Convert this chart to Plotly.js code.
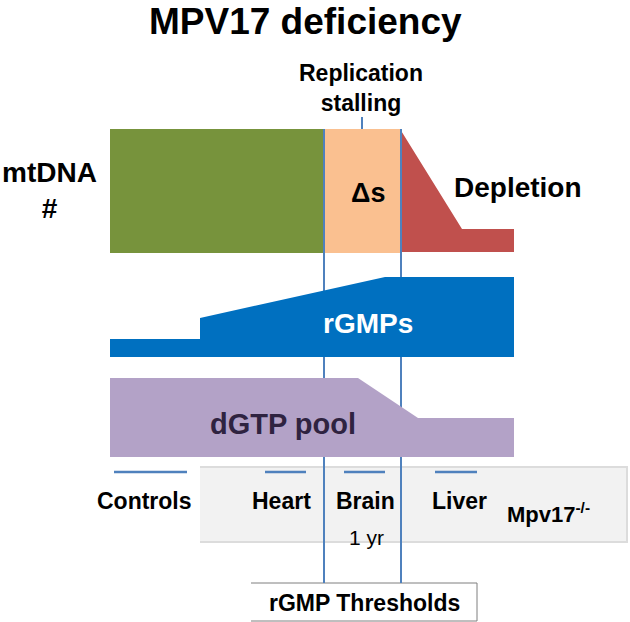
<!DOCTYPE html>
<html>
<head>
<meta charset="utf-8">
<script src="https://cdn.plot.ly/plotly-3.0.1.min.js"></script>
<style>html,body{margin:0;padding:0;background:#fff;}#chart{width:630px;height:622px;}</style>
</head>
<body>
<div id="chart"></div>
<script>
// Schematic outlines (pixel-like diagram units, y grows downward)
const greenX = [110, 324, 324, 110];
const greenY = [129, 129, 253, 253];
const orangeX = [324, 400, 400, 324];
const orangeY = [129, 129, 253, 253];
const redX = [400, 462, 514, 514, 400];
const redY = [129, 229, 229, 252, 252];
const rgmpX = [110, 200, 200, 385, 514, 514, 110];
const rgmpY = [339, 339, 318, 277, 277, 357, 357];
const dgtpX = [110, 358, 418, 514, 514, 110];
const dgtpY = [378, 378, 418, 418, 457, 457];
const thresholdX = [324, 401];
const thresholdY = [129, 583];
const stallX = [362, 362];
const stallY = [117, 129];
const tissueNames = ["Controls", "Heart", "Brain", "Liver"];
const tissueStart = [114, 265, 344, 435];
const tissueEnd = [187, 306, 385, 477];
const tissueLineY = 472;
const tissueLabelX = [144, 281, 365, 459];
const greyBoxX = [200, 627, 627, 200];
const greyBoxY = [467, 467, 542, 542];
const threshBoxX = [251, 477, 477, 251];
const threshBoxY = [583, 583, 621, 621];

const FONT = "Liberation Sans, Arial, Helvetica, sans-serif";
const traces = [];
function poly(x, y, fill, line, lw) {
  traces.push({x: x, y: y, type: "scatter", mode: "lines", fill: "toself",
    fillcolor: fill, line: {color: line || fill, width: lw || 0}, hoverinfo: "skip", showlegend: false});
}
function seg(x, y, color, w) {
  traces.push({x: x, y: y, type: "scatter", mode: "lines",
    line: {color: color, width: w}, hoverinfo: "skip", showlegend: false});
}
poly(greyBoxX, greyBoxY, "#f2f2f2", "#dcdcdc", 2);
poly(threshBoxX, threshBoxY, "#ffffff", "#7f7f7f", 1);
poly(greenX, greenY, "#77933c");
poly(orangeX, orangeY, "#fac090");
poly(redX, redY, "#c0504d");
thresholdX.forEach(function (x) { seg([x, x], thresholdY, "#4f81bd", 2); });
seg(stallX, stallY, "#4f81bd", 2);
tissueNames.forEach(function (n, i) {
  seg([tissueStart[i], tissueEnd[i]], [tissueLineY, tissueLineY], "#4f81bd", 2.5);
});
poly(rgmpX, rgmpY, "#0070c0");
poly(dgtpX, dgtpY, "#b3a2c7");

function ann(text, x, y, size, opts) {
  return Object.assign({text: text, x: x, y: y, xref: "x", yref: "y", showarrow: false,
    xanchor: "center", yanchor: "middle",
    font: {family: FONT, size: size, color: "#000000", weight: "bold"}}, opts || {});
}
const annotations = [
  ann("MPV17 deficiency", 305, 0, 37, {yanchor: "top", borderpad: 0}),
  ann("Replication<br>stalling", 361, 88, 23),
  ann("mtDNA<br>#", 49, 190, 28),
  ann("Δs", 368, 193, 27),
  ann("Depletion", 452, 187, 28, {xanchor: "left"}),
  ann("rGMPs", 368, 323, 28, {font: {family: FONT, size: 28, color: "#ffffff", weight: "bold"}}),
  ann("dGTP pool", 283, 424, 29, {font: {family: FONT, size: 29, color: "#2f2340", weight: "bold"}}),
  ann("1 yr", 366, 537, 21, {font: {family: FONT, size: 21, color: "#000000", weight: "normal"}}),
  ann("Mpv17<sup>-/-</sup>", 505, 513, 22, {xanchor: "left"}),
  ann("rGMP Thresholds", 364, 603, 23)
];
tissueNames.forEach(function (n, i) { annotations.push(ann(n, tissueLabelX[i], 501, 23)); });

const layout = {
  width: 630, height: 622,
  margin: {l: 0, r: 0, t: 0, b: 0},
  paper_bgcolor: "#ffffff", plot_bgcolor: "#ffffff",
  xaxis: {range: [0, 630], visible: false, fixedrange: true},
  yaxis: {range: [622, 0], visible: false, fixedrange: true},
  annotations: annotations,
  showlegend: false
};
Plotly.newPlot("chart", traces, layout, {staticPlot: true, displayModeBar: false});
</script>
</body>
</html>
